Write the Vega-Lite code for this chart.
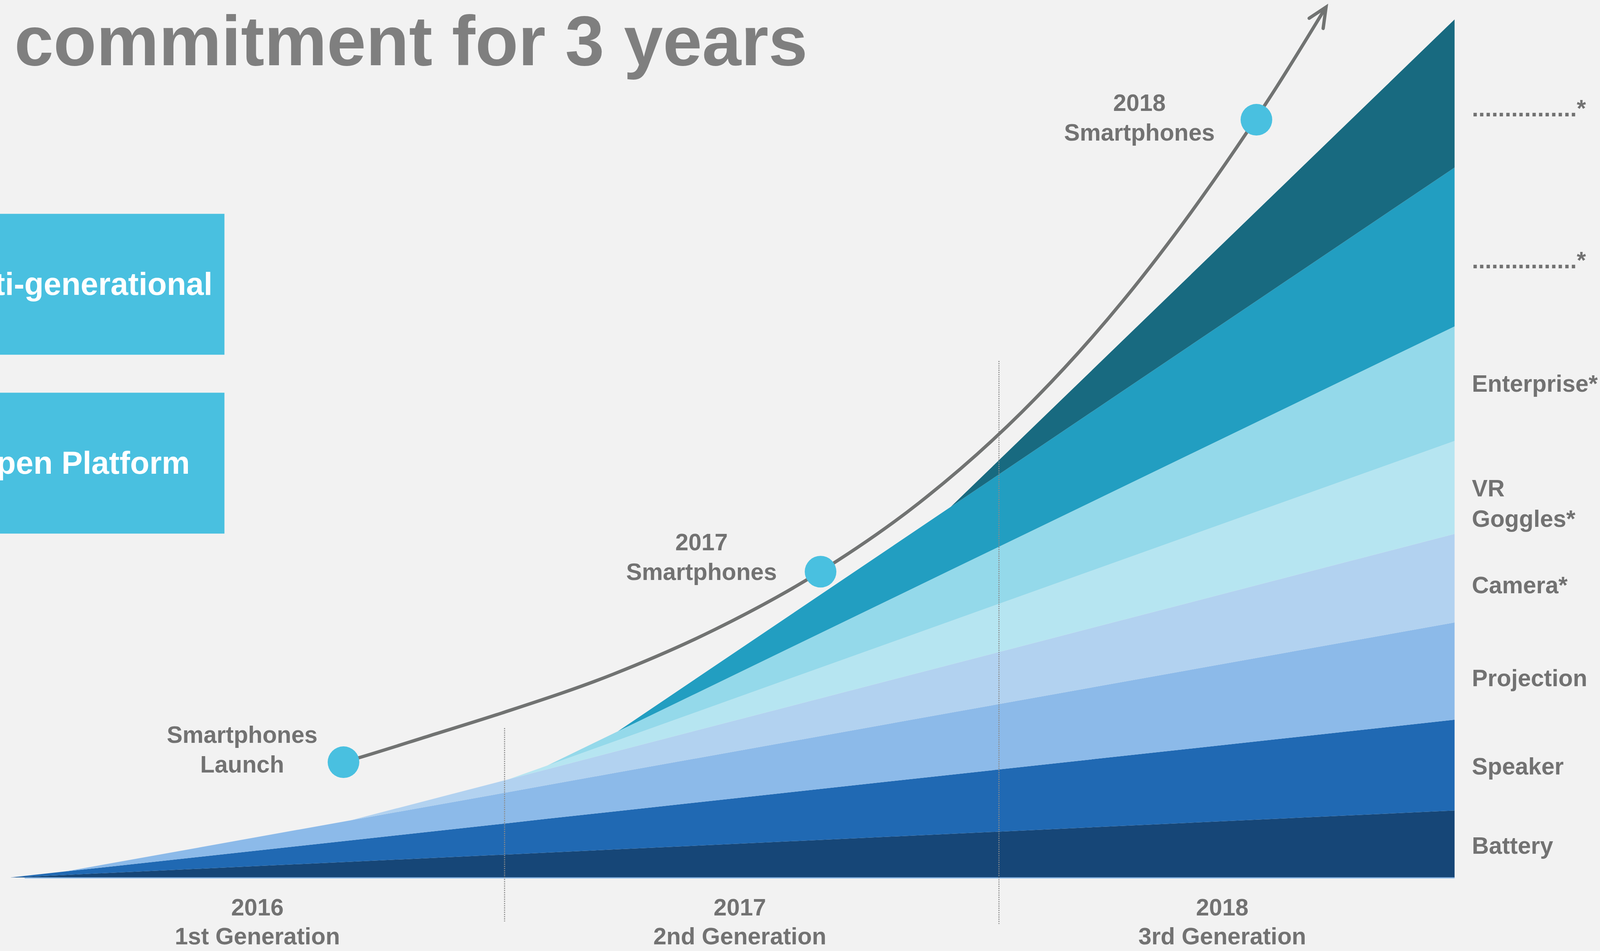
{
  "$schema": "https://vega.github.io/schema/vega-lite/v6.json",
  "width": 4100,
  "height": 2435,
  "autosize": {"type": "none"},
  "padding": 0,
  "background": "#f2f2f2",
  "config": {"view": {"stroke": null}, "font": "Liberation Sans"},
  "datasets": {
    "bands": [
      {"month": 0, "segment": "Battery", "rank": 1, "units": 0},
      {"month": 1.34, "segment": "Battery", "rank": 1, "units": 2.4},
      {"month": 8.26, "segment": "Battery", "rank": 1, "units": 14.6},
      {"month": 12.1, "segment": "Battery", "rank": 1, "units": 21.4},
      {"month": 13.04, "segment": "Battery", "rank": 1, "units": 23.1},
      {"month": 14.75, "segment": "Battery", "rank": 1, "units": 26.1},
      {"month": 22.83, "segment": "Battery", "rank": 1, "units": 40.4},
      {"month": 35.06, "segment": "Battery", "rank": 1, "units": 62},
      {"month": 0, "segment": "Speaker", "rank": 2, "units": 0},
      {"month": 1.34, "segment": "Speaker", "rank": 2, "units": 3.2},
      {"month": 8.26, "segment": "Speaker", "rank": 2, "units": 19.8},
      {"month": 12.1, "segment": "Speaker", "rank": 2, "units": 29.0},
      {"month": 13.04, "segment": "Speaker", "rank": 2, "units": 31.3},
      {"month": 14.75, "segment": "Speaker", "rank": 2, "units": 35.4},
      {"month": 22.83, "segment": "Speaker", "rank": 2, "units": 54.7},
      {"month": 35.06, "segment": "Speaker", "rank": 2, "units": 84},
      {"month": 0, "segment": "Projection", "rank": 3, "units": 0},
      {"month": 1.34, "segment": "Projection", "rank": 3, "units": 0},
      {"month": 8.26, "segment": "Projection", "rank": 3, "units": 18.5},
      {"month": 12.1, "segment": "Projection", "rank": 3, "units": 28.7},
      {"month": 13.04, "segment": "Projection", "rank": 3, "units": 31.2},
      {"month": 14.75, "segment": "Projection", "rank": 3, "units": 35.8},
      {"month": 22.83, "segment": "Projection", "rank": 3, "units": 57.4},
      {"month": 35.06, "segment": "Projection", "rank": 3, "units": 90},
      {"month": 0, "segment": "Camera", "rank": 4, "units": 0},
      {"month": 1.34, "segment": "Camera", "rank": 4, "units": 0},
      {"month": 8.26, "segment": "Camera", "rank": 4, "units": 0},
      {"month": 12.1, "segment": "Camera", "rank": 4, "units": 11.8},
      {"month": 13.04, "segment": "Camera", "rank": 4, "units": 14.6},
      {"month": 14.75, "segment": "Camera", "rank": 4, "units": 19.9},
      {"month": 22.83, "segment": "Camera", "rank": 4, "units": 44.6},
      {"month": 35.06, "segment": "Camera", "rank": 4, "units": 82},
      {"month": 0, "segment": "VR Goggles", "rank": 5, "units": 0},
      {"month": 1.34, "segment": "VR Goggles", "rank": 5, "units": 0},
      {"month": 8.26, "segment": "VR Goggles", "rank": 5, "units": 0},
      {"month": 12.1, "segment": "VR Goggles", "rank": 5, "units": 0},
      {"month": 13.04, "segment": "VR Goggles", "rank": 5, "units": 3.5},
      {"month": 14.75, "segment": "VR Goggles", "rank": 5, "units": 9.9},
      {"month": 22.83, "segment": "VR Goggles", "rank": 5, "units": 40.2},
      {"month": 35.06, "segment": "VR Goggles", "rank": 5, "units": 86},
      {"month": 0, "segment": "Enterprise", "rank": 6, "units": 0},
      {"month": 1.34, "segment": "Enterprise", "rank": 6, "units": 0},
      {"month": 8.26, "segment": "Enterprise", "rank": 6, "units": 0},
      {"month": 12.1, "segment": "Enterprise", "rank": 6, "units": 0},
      {"month": 13.04, "segment": "Enterprise", "rank": 6, "units": 0},
      {"month": 14.75, "segment": "Enterprise", "rank": 6, "units": 8.2},
      {"month": 22.83, "segment": "Enterprise", "rank": 6, "units": 47.2},
      {"month": 35.06, "segment": "Enterprise", "rank": 6, "units": 106},
      {"month": 0, "segment": "TBD 1", "rank": 7, "units": 0},
      {"month": 1.34, "segment": "TBD 1", "rank": 7, "units": 0},
      {"month": 8.26, "segment": "TBD 1", "rank": 7, "units": 0},
      {"month": 12.1, "segment": "TBD 1", "rank": 7, "units": 0},
      {"month": 13.04, "segment": "TBD 1", "rank": 7, "units": 0},
      {"month": 14.75, "segment": "TBD 1", "rank": 7, "units": 0},
      {"month": 22.83, "segment": "TBD 1", "rank": 7, "units": 58.5},
      {"month": 35.06, "segment": "TBD 1", "rank": 7, "units": 147},
      {"month": 0, "segment": "TBD 2", "rank": 8, "units": 0},
      {"month": 1.34, "segment": "TBD 2", "rank": 8, "units": 0},
      {"month": 8.26, "segment": "TBD 2", "rank": 8, "units": 0},
      {"month": 12.1, "segment": "TBD 2", "rank": 8, "units": 0},
      {"month": 13.04, "segment": "TBD 2", "rank": 8, "units": 0},
      {"month": 14.75, "segment": "TBD 2", "rank": 8, "units": 0},
      {"month": 22.83, "segment": "TBD 2", "rank": 8, "units": 0},
      {"month": 35.06, "segment": "TBD 2", "rank": 8, "units": 137}
    ],
    "arc": [
      {"month": 8.088, "level": 106.6},
      {"month": 8.462, "level": 110.8},
      {"month": 10.165, "level": 131.0},
      {"month": 11.933, "level": 152.2},
      {"month": 14.628, "level": 188.0},
      {"month": 17.107, "level": 229.5},
      {"month": 19.587, "level": 281.3},
      {"month": 22.066, "level": 346.8},
      {"month": 24.545, "level": 430.3},
      {"month": 27.025, "level": 534.3},
      {"month": 29.504, "level": 660.8},
      {"month": 30.744, "level": 731.8},
      {"month": 31.937, "level": 805.4}
    ],
    "arrowhead": [
      {"seq": 1, "month": 31.53, "level": 795.1},
      {"seq": 2, "month": 31.94, "level": 805.4},
      {"seq": 3, "month": 31.87, "level": 785.7}
    ],
    "milestones": [
      {"name": "Smartphones Launch", "month": 8.09, "level": 106.7},
      {"name": "2017 Smartphones", "month": 19.67, "level": 283.0},
      {"name": "2018 Smartphones", "month": 30.25, "level": 701.2}
    ],
    "notes": [
      {"text": "Smartphones\nLaunch", "month": 5.63, "level": 124.5},
      {"text": "2017\nSmartphones", "month": 16.78, "level": 302.7},
      {"text": "2018\nSmartphones", "month": 27.41, "level": 709.4}
    ],
    "years": [
      {"text": "2016\n1st Generation", "month": 6.0, "level": -35.1},
      {"text": "2017\n2nd Generation", "month": 17.71, "level": -35.1},
      {"text": "2018\n3rd Generation", "month": 29.42, "level": -35.1}
    ],
    "series_labels": [
      {"text": "................*", "month": 35.48, "level": 704.4},
      {"text": "................*", "month": 35.48, "level": 563.6},
      {"text": "Enterprise*", "month": 35.48, "level": 449.6},
      {"text": "VR\nGoggles*", "month": 35.48, "level": 352.5},
      {"text": "Camera*", "month": 35.48, "level": 263.2},
      {"text": "Projection", "month": 35.48, "level": 177},
      {"text": "Speaker", "month": 35.48, "level": 95.3},
      {"text": "Battery", "month": 35.48, "level": 22}
    ],
    "dividers": [
      {"month": 12.0, "top": 138.3, "bottom": -40.6},
      {"month": 24.0, "top": 478, "bottom": -43}
    ],
    "baseline": [
      {"start": 0.35, "end": 35.06, "level": -0.4}
    ],
    "boxes": [
      {"start": -1, "end": 5.2, "top": 614.1, "bottom": 483.8, "text": "ti-generational", "textMonth": 4.91, "textLevel": 539.1},
      {"start": -1, "end": 5.2, "top": 448.6, "bottom": 318.2, "text": "pen Platform", "textMonth": 4.36, "textLevel": 373.8}
    ],
    "heading": [
      {"text": "commitment for 3 years", "month": 0.1, "level": 751.5}
    ]
  },
  "layer": [
    {
      "data": {"name": "bands"},
      "mark": {"type": "area", "interpolate": "linear"},
      "encoding": {
        "x": {"field": "month", "type": "quantitative", "scale": {"domain": [-0.248, 38.628], "nice": false, "zero": false}, "axis": null},
        "y": {"field": "units", "type": "quantitative", "stack": "zero", "scale": {"domain": [-68, 812], "nice": false, "zero": false}, "axis": null},
        "color": {
          "field": "segment", "type": "nominal", "legend": null,
          "scale": {
            "domain": ["Battery", "Speaker", "Projection", "Camera", "VR Goggles", "Enterprise", "TBD 1", "TBD 2"],
            "range": ["#164677", "#2069b3", "#8cbae9", "#b2d2f0", "#b6e5f1", "#94d9ea", "#229ec1", "#186a80"]
          }
        },
        "order": {"field": "rank", "type": "quantitative"}
      }
    },
    {
      "data": {"name": "baseline"},
      "mark": {"type": "rule", "color": "#8cbae9", "strokeWidth": 2.8},
      "encoding": {
        "x": {"field": "start", "type": "quantitative", "scale": {"domain": [-0.248, 38.628], "nice": false, "zero": false}, "axis": null},
        "x2": {"field": "end"},
        "y": {"field": "level", "type": "quantitative", "scale": {"domain": [-68, 812], "nice": false, "zero": false}, "axis": null}
      }
    },
    {
      "data": {"name": "boxes"},
      "mark": {"type": "rect", "color": "#49c0e0", "clip": true},
      "encoding": {
        "x": {"field": "start", "type": "quantitative", "scale": {"domain": [-0.248, 38.628], "nice": false, "zero": false}, "axis": null},
        "x2": {"field": "end"},
        "y": {"field": "top", "type": "quantitative", "scale": {"domain": [-68, 812], "nice": false, "zero": false}, "axis": null},
        "y2": {"field": "bottom"}
      }
    },
    {
      "data": {"name": "dividers"},
      "mark": {"type": "rule", "color": "#8a8a8a", "strokeWidth": 2.8, "strokeDash": [2.8, 2.8]},
      "encoding": {
        "x": {"field": "month", "type": "quantitative", "scale": {"domain": [-0.248, 38.628], "nice": false, "zero": false}, "axis": null},
        "y": {"field": "top", "type": "quantitative", "scale": {"domain": [-68, 812], "nice": false, "zero": false}, "axis": null},
        "y2": {"field": "bottom"}
      }
    },
    {
      "data": {"name": "arc"},
      "mark": {"type": "line", "interpolate": "monotone", "color": "#717372", "strokeWidth": 8.5, "strokeCap": "butt"},
      "encoding": {
        "x": {"field": "month", "type": "quantitative", "scale": {"domain": [-0.248, 38.628], "nice": false, "zero": false}, "axis": null},
        "y": {"field": "level", "type": "quantitative", "scale": {"domain": [-68, 812], "nice": false, "zero": false}, "axis": null}
      }
    },
    {
      "data": {"name": "arrowhead"},
      "mark": {"type": "line", "color": "#717372", "strokeWidth": 8.5, "strokeCap": "round", "strokeJoin": "miter"},
      "encoding": {
        "x": {"field": "month", "type": "quantitative", "scale": {"domain": [-0.248, 38.628], "nice": false, "zero": false}, "axis": null},
        "y": {"field": "level", "type": "quantitative", "scale": {"domain": [-68, 812], "nice": false, "zero": false}, "axis": null},
        "order": {"field": "seq", "type": "quantitative"}
      }
    },
    {
      "data": {"name": "milestones"},
      "mark": {"type": "point", "shape": "circle", "filled": true, "size": 6561, "color": "#49c0e0", "opacity": 1},
      "encoding": {
        "x": {"field": "month", "type": "quantitative", "scale": {"domain": [-0.248, 38.628], "nice": false, "zero": false}, "axis": null},
        "y": {"field": "level", "type": "quantitative", "scale": {"domain": [-68, 812], "nice": false, "zero": false}, "axis": null}
      }
    },
    {
      "data": {"name": "notes"},
      "mark": {"type": "text", "align": "center", "baseline": "alphabetic", "lineBreak": "\n", "lineHeight": 76, "fontSize": 60.4, "fontWeight": "bold", "font": "Liberation Sans", "color": "#727272", "clip": true},
      "encoding": {
        "x": {"field": "month", "type": "quantitative", "scale": {"domain": [-0.248, 38.628], "nice": false, "zero": false}, "axis": null},
        "y": {"field": "level", "type": "quantitative", "scale": {"domain": [-68, 812], "nice": false, "zero": false}, "axis": null},
        "text": {"field": "text", "type": "nominal"}
      }
    },
    {
      "data": {"name": "years"},
      "mark": {"type": "text", "align": "center", "baseline": "alphabetic", "lineBreak": "\n", "lineHeight": 74, "fontSize": 60.4, "fontWeight": "bold", "font": "Liberation Sans", "color": "#727272", "clip": true},
      "encoding": {
        "x": {"field": "month", "type": "quantitative", "scale": {"domain": [-0.248, 38.628], "nice": false, "zero": false}, "axis": null},
        "y": {"field": "level", "type": "quantitative", "scale": {"domain": [-68, 812], "nice": false, "zero": false}, "axis": null},
        "text": {"field": "text", "type": "nominal"}
      }
    },
    {
      "data": {"name": "series_labels"},
      "mark": {"type": "text", "align": "left", "baseline": "alphabetic", "lineBreak": "\n", "lineHeight": 78, "fontSize": 60.4, "fontWeight": "bold", "font": "Liberation Sans", "color": "#727272", "clip": true},
      "encoding": {
        "x": {"field": "month", "type": "quantitative", "scale": {"domain": [-0.248, 38.628], "nice": false, "zero": false}, "axis": null},
        "y": {"field": "level", "type": "quantitative", "scale": {"domain": [-68, 812], "nice": false, "zero": false}, "axis": null},
        "text": {"field": "text", "type": "nominal"}
      }
    },
    {
      "data": {"name": "boxes"},
      "mark": {"type": "text", "align": "right", "baseline": "alphabetic", "fontSize": 81, "fontWeight": "bold", "font": "Liberation Sans", "color": "#ffffff", "clip": true},
      "encoding": {
        "x": {"field": "textMonth", "type": "quantitative", "scale": {"domain": [-0.248, 38.628], "nice": false, "zero": false}, "axis": null},
        "y": {"field": "textLevel", "type": "quantitative", "scale": {"domain": [-68, 812], "nice": false, "zero": false}, "axis": null},
        "text": {"field": "text", "type": "nominal"}
      }
    },
    {
      "data": {"name": "heading"},
      "mark": {"type": "text", "align": "left", "baseline": "alphabetic", "fontSize": 180, "fontWeight": "bold", "font": "Liberation Sans", "color": "#7f7f7f", "clip": true},
      "encoding": {
        "x": {"field": "month", "type": "quantitative", "scale": {"domain": [-0.248, 38.628], "nice": false, "zero": false}, "axis": null},
        "y": {"field": "level", "type": "quantitative", "scale": {"domain": [-68, 812], "nice": false, "zero": false}, "axis": null},
        "text": {"field": "text", "type": "nominal"}
      }
    }
  ]
}
